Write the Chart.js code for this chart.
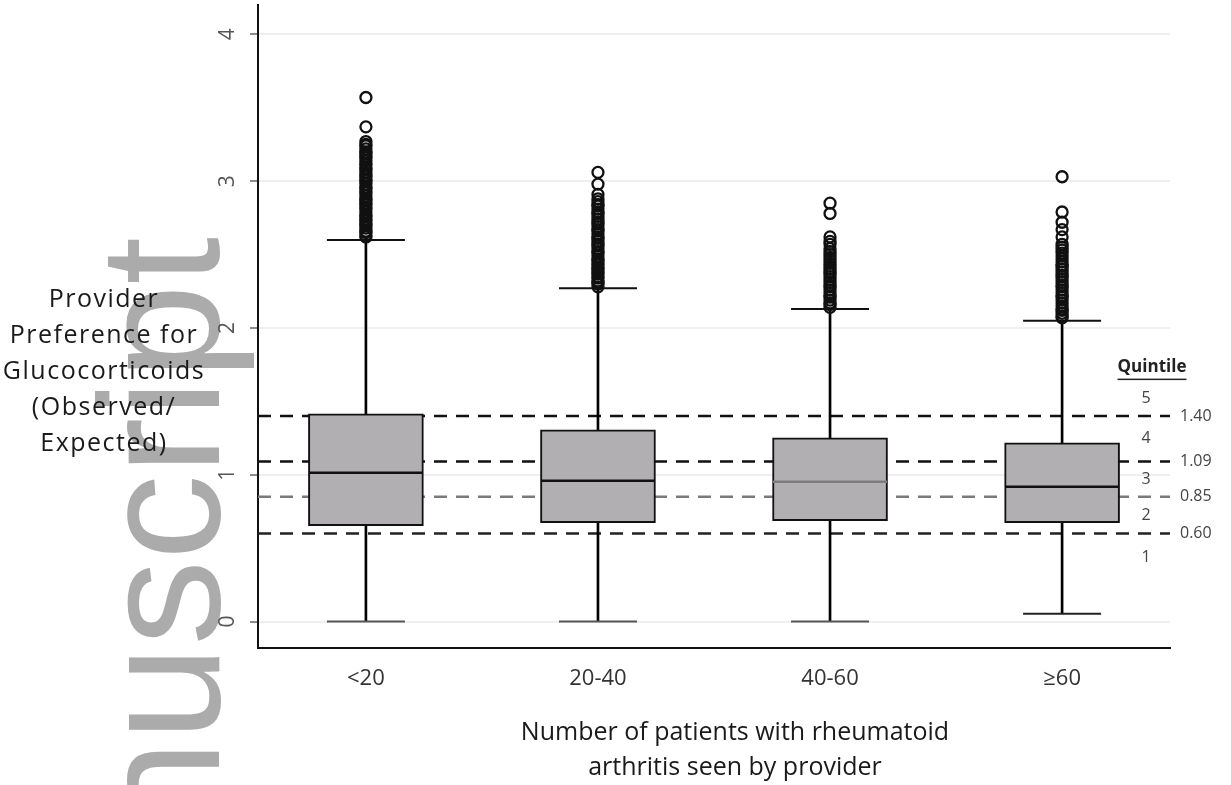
<!DOCTYPE html>
<html>
<head>
<meta charset="utf-8">
<script src="https://cdn.jsdelivr.net/npm/chart.js@4.4.1/dist/chart.umd.min.js"></script>
<style>
  body { margin: 0; background: #fff; }
  canvas { display: block; }
</style>
</head>
<body>
<canvas id="myChart" width="1231" height="785"></canvas>
<script>
'use strict'
// values
let categories = ['<20', '20-40', '40-60', '≥60'];
let whiskerLow = [0, 0, 0, 0.054];
let q1 = [0.653, 0.673, 0.687, 0.673];
let median = [1.014, 0.959, 0.952, 0.918];
let q3 = [1.415, 1.306, 1.252, 1.218];
let whiskerHigh = [2.60, 2.27, 2.13, 2.05];

let outliersLt20 = [3.57, 3.37, 3.27, 3.25, 3.24, 3.22, 3.20, 3.19, 3.17, 3.16, 3.14, 3.12, 3.11, 3.09,
    3.08, 3.06, 3.04, 3.03, 3.01, 3.00, 2.98, 2.96, 2.95, 2.93, 2.92, 2.90, 2.88, 2.87, 2.85, 2.84, 2.82,
    2.81, 2.79, 2.77, 2.76, 2.74, 2.73, 2.71, 2.70, 2.68, 2.66, 2.65, 2.63, 2.62];
let outliers20to40 = [3.06, 2.98, 2.91, 2.88, 2.86, 2.84, 2.83, 2.81, 2.79, 2.78, 2.76, 2.74, 2.72, 2.71,
    2.69, 2.67, 2.66, 2.64, 2.62, 2.61, 2.59, 2.57, 2.56, 2.54, 2.52, 2.51, 2.49, 2.47, 2.46, 2.44, 2.43,
    2.41, 2.40, 2.38, 2.37, 2.35, 2.34, 2.32, 2.31, 2.30, 2.28];
let outliers40to60 = [2.85, 2.78, 2.62, 2.59, 2.57, 2.54, 2.52, 2.50, 2.48, 2.46, 2.44, 2.42, 2.40, 2.38,
    2.37, 2.35, 2.33, 2.31, 2.29, 2.28, 2.26, 2.24, 2.22, 2.21, 2.19, 2.17, 2.16, 2.14];
let outliersGe60 = [3.03, 2.79, 2.72, 2.67, 2.62, 2.57, 2.55, 2.53, 2.51, 2.49, 2.47, 2.45, 2.43, 2.42,
    2.40, 2.38, 2.36, 2.35, 2.33, 2.31, 2.29, 2.28, 2.26, 2.24, 2.22, 2.21, 2.19, 2.17, 2.15, 2.13, 2.12,
    2.10, 2.08, 2.07];

let quintileCuts = [1.40, 1.09, 0.85, 0.60];
let quintileCutLabels = ['1.40', '1.09', '0.85', '0.60'];
let quintileNames = ['5', '4', '3', '2', '1'];
let yTicks = [0, 1, 2, 3, 4];

let yTitleLines = ['Provider', 'Preference for', 'Glucocorticoids', '(Observed/', 'Expected)'];
let xTitleLines = ['Number of patients with rheumatoid', 'arthritis seen by provider'];

const FONT = "'Open Sans', sans-serif";
const X_MIN = 0.535;
const X_MAX = 4.465;

let outlierPoints = [];
[outliersLt20, outliers20to40, outliers40to60, outliersGe60].forEach((arr, i) => {
    arr.forEach(v => outlierPoints.push({ x: i + 1, y: v }));
});

let datasets = [];

// quintile cut lines
let cutColors = ['#111', '#111', '#7a7a7a', '#222'];
quintileCuts.forEach((c, i) => {
    datasets.push({
        type: 'line',
        data: [{ x: X_MIN, y: c }, { x: X_MAX, y: c }],
        borderColor: cutColors[i],
        borderWidth: 2.5,
        borderDash: [13, 9],
        pointRadius: 0,
        order: 6
    });
});

// whiskers
datasets.push({
    type: 'bar',
    data: categories.map((c, i) => ({ x: i + 1, y: [whiskerLow[i], whiskerHigh[i]] })),
    backgroundColor: '#000',
    barThickness: 2,
    grouped: false,
    order: 5
});

// boxes
datasets.push({
    type: 'bar',
    data: categories.map((c, i) => ({ x: i + 1, y: [q1[i], q3[i]] })),
    backgroundColor: '#b2afb2',
    borderColor: '#111',
    borderWidth: 2,
    borderSkipped: false,
    barThickness: 115,
    grouped: false,
    order: 4
});

// medians
datasets.push({
    type: 'line',
    showLine: false,
    data: categories.map((c, i) => ({ x: i + 1, y: median[i] })),
    pointStyle: 'line',
    pointRadius: 57,
    pointBorderWidth: 2.5,
    pointBorderColor: ['#111', '#111', '#7d7d7d', '#111'],
    order: 3
});

// whisker caps
datasets.push({
    type: 'line',
    showLine: false,
    data: categories.map((c, i) => ({ x: i + 1, y: whiskerHigh[i] }))
        .concat(categories.map((c, i) => ({ x: i + 1, y: whiskerLow[i] }))),
    pointStyle: 'line',
    pointRadius: 39,
    pointBorderWidth: 2,
    pointBorderColor: ['#111', '#111', '#111', '#111', '#555', '#555', '#555', '#222'],
    order: 3
});

// outliers
datasets.push({
    type: 'line',
    showLine: false,
    data: outlierPoints,
    pointStyle: 'circle',
    pointRadius: 5.5,
    pointBorderWidth: 2.3,
    pointBorderColor: '#111',
    pointBackgroundColor: 'rgba(255,255,255,0)',
    order: 1
});

let extras = {
    id: 'extras',
    beforeDraw(chart) {
        // faint "Author Manuscript" watermark
        let ctx = chart.ctx;
        ctx.save();
        ctx.translate(219, 237);
        ctx.rotate(-Math.PI / 2);
        ctx.font = "171px 'Liberation Sans', Arial, sans-serif";
        ctx.fillStyle = '#ababab';
        ctx.textAlign = 'right';
        ctx.textBaseline = 'alphabetic';
        ctx.fillText('Author Manuscript', 0, 0);
        ctx.restore();
    },
    afterDraw(chart) {
        let ctx = chart.ctx;
        let y = chart.scales.y;
        let area = chart.chartArea;
        ctx.save();

        // y tick labels, parallel to the axis
        ctx.font = '21px ' + FONT;
        ctx.fillStyle = '#555';
        ctx.textAlign = 'center';
        ctx.textBaseline = 'middle';
        yTicks.forEach(v => {
            ctx.save();
            ctx.translate(area.left - 30, y.getPixelForValue(v));
            ctx.rotate(-Math.PI / 2);
            ctx.fillText(String(v), 0, 0);
            ctx.restore();
        });

        // y title, horizontal
        ctx.font = '25px ' + FONT;
        ctx.fillStyle = '#1a1a1a';
        ctx.letterSpacing = '1.5px';
        yTitleLines.forEach((t, i) => {
            ctx.fillText(t, 104, 300 + i * 36);
        });
        ctx.letterSpacing = '0px';

        // x title
        xTitleLines.forEach((t, i) => {
            ctx.fillText(t, 735, 733 + i * 35);
        });

        // quintile annotations
        ctx.font = 'bold 17px ' + FONT;
        ctx.fillStyle = '#222';
        let qy = y.getPixelForValue(1.73);
        ctx.fillText('Quintile', 1152, qy);
        let w = ctx.measureText('Quintile').width;
        ctx.fillRect(1152 - w / 2, qy + 11, w, 1.5);

        ctx.font = '16px ' + FONT;
        ctx.fillStyle = '#444';
        let namePos = [quintileCuts[0] + 0.12];
        for (let i = 0; i < quintileCuts.length - 1; i++) {
            namePos.push((quintileCuts[i] + quintileCuts[i + 1]) / 2);
        }
        namePos.push(quintileCuts[quintileCuts.length - 1] - 0.165);
        quintileNames.forEach((n, i) => {
            ctx.fillText(n, 1146, y.getPixelForValue(namePos[i]));
        });
        ctx.textAlign = 'left';
        quintileCutLabels.forEach((l, i) => {
            ctx.fillText(l, 1180, y.getPixelForValue(quintileCuts[i]));
        });
        ctx.restore();
    }
};

let ctx = document.getElementById('myChart');
let myChart = new Chart(ctx, {
    type: 'bar',
    data: { datasets: datasets },
    options: {
        responsive: false,
        animation: false,
        devicePixelRatio: 1,
        layout: {
            autoPadding: false,
            padding: { left: 250, right: 61, top: 5, bottom: 82.6 }
        },
        plugins: {
            legend: { display: false },
            tooltip: { enabled: false }
        },
        scales: {
            x: {
                type: 'linear',
                min: X_MIN,
                max: X_MAX,
                offset: false,
                afterBuildTicks: (scale) => {
                    scale.ticks = categories.map((c, i) => ({ value: i + 1 }));
                },
                ticks: {
                    padding: 10,
                    color: '#333',
                    font: { family: FONT, size: 22 },
                    maxRotation: 0,
                    callback: (v) => categories[v - 1]
                },
                grid: { display: false },
                border: { display: true, color: '#111', width: 2 }
            },
            y: {
                min: -0.18,
                max: 4.2,
                afterBuildTicks: (scale) => {
                    scale.ticks = yTicks.map(v => ({ value: v }));
                },
                ticks: { display: false },
                grid: {
                    color: '#efefef',
                    lineWidth: 2,
                    tickLength: 8,
                    tickColor: '#666',
                    tickWidth: 1.5
                },
                border: { display: true, color: '#111', width: 2 }
            }
        }
    },
    plugins: [extras]
});
</script>
</body>
</html>
